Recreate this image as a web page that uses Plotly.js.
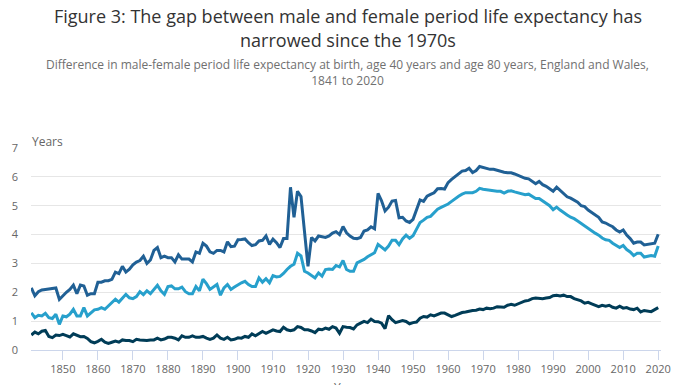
<!DOCTYPE html>
<html>
<head>
<meta charset="utf-8">
<script src="https://cdn.plot.ly/plotly-3.0.1.min.js"></script>
<style>
html,body{margin:0;padding:0;background:#fff;}
#chart{width:696px;height:385px;}
</style>
</head>
<body>
<div id="chart"></div>
<script>
// Years 1841 to 2020
const firstYear = 1841;
const lastYear = 2020;

// Difference in male-female period life expectancy at birth (years)
const atBirth = [
  2.15,1.88,2.02,2.08,2.1,2.12,2.12,2.15,1.75,1.88,
  2.0,2.1,2.25,1.95,2.25,2.22,1.9,1.95,1.95,2.35,
  2.35,2.4,2.4,2.45,2.7,2.65,2.9,2.7,2.8,2.95,
  3.05,3.1,3.25,3.0,3.12,3.45,3.55,3.2,3.25,3.2,
  3.2,3.05,3.3,3.15,3.15,3.15,3.05,3.4,3.35,3.7,
  3.6,3.4,3.35,3.45,3.45,3.4,3.75,3.58,3.6,3.82,
  3.83,3.85,3.72,3.62,3.65,3.78,3.8,3.95,3.66,3.84,
  3.72,3.55,3.86,3.86,5.64,4.6,5.5,5.32,4.1,2.9,
  3.9,3.78,3.95,3.92,3.9,3.95,4.05,4.1,4.0,4.28,
  4.06,3.95,3.87,3.86,3.9,4.12,4.16,4.27,4.2,5.43,
  5.17,4.82,4.95,5.16,5.18,4.58,4.6,4.47,4.42,4.53,
  4.9,5.2,5.15,5.33,5.39,5.45,5.59,5.6,5.58,5.8,
  5.91,6.0,6.12,6.2,6.22,6.3,6.15,6.22,6.36,6.33,
  6.3,6.26,6.26,6.22,6.19,6.16,6.14,6.14,6.1,6.05,
  5.99,5.95,5.93,5.84,5.76,5.84,5.73,5.67,5.58,5.5,
  5.64,5.52,5.41,5.31,5.26,5.2,5.12,5.0,4.97,4.85,
  4.77,4.69,4.6,4.44,4.4,4.33,4.27,4.16,4.09,4.16,
  3.98,3.86,3.7,3.74,3.74,3.64,3.66,3.69,3.7,4.01
];

// Difference at age 40 (years)
const age40 = [
  1.29,1.12,1.2,1.18,1.27,1.12,1.09,1.24,0.89,1.18,
  1.15,1.24,1.41,1.18,1.18,1.47,1.18,1.29,1.39,1.41,
  1.47,1.41,1.52,1.64,1.76,1.66,1.81,1.93,1.81,1.78,
  1.85,2.02,1.92,2.05,1.95,2.1,2.24,2.05,1.93,2.2,
  2.22,2.12,2.12,2.18,2.02,1.95,1.95,2.2,2.05,2.45,
  2.3,2.1,2.2,2.27,1.9,2.15,2.27,2.1,2.18,2.27,
  2.33,2.38,2.27,2.2,2.2,2.5,2.35,2.47,2.33,2.58,
  2.53,2.55,2.65,2.79,2.9,2.97,3.35,3.26,2.73,2.67,
  2.58,2.5,2.67,2.56,2.79,2.81,2.79,2.93,2.88,3.1,
  2.79,2.73,2.73,3.02,3.08,3.14,3.23,3.31,3.37,3.66,
  3.58,3.47,3.6,3.8,3.8,3.65,3.85,3.98,3.87,3.96,
  4.19,4.42,4.5,4.6,4.63,4.74,4.88,4.94,5.0,5.06,
  5.15,5.25,5.33,5.4,5.45,5.45,5.45,5.5,5.6,5.57,
  5.55,5.55,5.52,5.5,5.5,5.44,5.5,5.52,5.48,5.45,
  5.42,5.38,5.4,5.32,5.25,5.25,5.17,5.1,5.0,4.86,
  4.95,4.85,4.75,4.68,4.6,4.55,4.47,4.38,4.3,4.2,
  4.13,4.05,3.98,3.88,3.82,3.8,3.7,3.63,3.55,3.62,
  3.48,3.4,3.27,3.35,3.35,3.22,3.25,3.27,3.25,3.6
];

// Difference at age 80 (years)
const age80 = [
  0.52,0.62,0.56,0.65,0.68,0.47,0.43,0.52,0.5,0.54,
  0.5,0.45,0.56,0.52,0.46,0.47,0.4,0.29,0.25,0.3,
  0.37,0.27,0.23,0.27,0.31,0.27,0.35,0.33,0.33,0.29,
  0.37,0.35,0.33,0.33,0.35,0.35,0.41,0.35,0.38,0.44,
  0.44,0.41,0.35,0.49,0.44,0.44,0.49,0.44,0.44,0.47,
  0.41,0.37,0.41,0.52,0.41,0.37,0.44,0.35,0.37,0.42,
  0.41,0.47,0.44,0.56,0.49,0.56,0.64,0.58,0.64,0.7,
  0.66,0.64,0.79,0.7,0.67,0.7,0.81,0.78,0.7,0.7,
  0.66,0.6,0.72,0.7,0.76,0.72,0.81,0.76,0.58,0.81,
  0.79,0.78,0.73,0.87,0.93,0.99,0.95,1.07,0.99,0.98,
  0.93,0.74,1.19,1.05,0.95,0.98,1.02,0.99,0.91,0.95,
  0.97,1.1,1.16,1.14,1.22,1.18,1.24,1.28,1.28,1.22,
  1.16,1.2,1.25,1.3,1.32,1.35,1.37,1.38,1.42,1.4,
  1.45,1.43,1.45,1.5,1.5,1.48,1.55,1.58,1.55,1.6,
  1.65,1.7,1.72,1.78,1.8,1.78,1.78,1.8,1.82,1.88,
  1.9,1.87,1.9,1.85,1.85,1.78,1.75,1.7,1.62,1.65,
  1.6,1.55,1.5,1.55,1.52,1.55,1.48,1.45,1.52,1.45,
  1.47,1.42,1.4,1.45,1.32,1.37,1.35,1.33,1.4,1.47
];

const tickYears = [1850,1860,1870,1880,1890,1900,1910,1920,1930,1940,1950,1960,1970,1980,1990,2000,2010,2020];
const yTicks = [0,1,2,3,4,5,6,7];

const years = [];
for (let y = firstYear; y <= lastYear; y++) years.push(y);

const seriesNames = ['At birth','Age 40','Age 80'];
const seriesColors = ['#206095','#27a0cc','#003c57'];
const seriesData = [atBirth, age40, age80];

const traces = seriesData.map((vals, i) => ({
  type: 'scatter',
  mode: 'lines',
  name: seriesNames[i],
  x: years,
  y: vals,
  line: {color: seriesColors[i], width: 3},
  hoverinfo: 'x+y+name'
}));

const font = '"Open Sans", "Noto Sans", sans-serif';

const layout = {
  width: 696,
  height: 385,
  margin: {l: 31, r: 35, t: 148, b: 35},
  paper_bgcolor: '#ffffff',
  plot_bgcolor: '#ffffff',
  showlegend: false,
  font: {family: font, color: '#666666', size: 11},
  title: {
    text: 'Figure 3: The gap between male and female period life expectancy has<br>narrowed since the 1970s',
    font: {family: font, size: 18, color: '#333333'},
    xref: 'container', x: 0.5, xanchor: 'center',
    yref: 'container', y: 0.939, yanchor: 'top'
  },
  xaxis: {
    range: [1840.9, 2020.8],
    tickvals: tickYears,
    ticktext: tickYears.map(String),
    ticks: 'outside',
    ticklen: 9,
    tickcolor: '#ccd6eb',
    tickwidth: 1,
    showline: true,
    linecolor: '#ccd6eb',
    linewidth: 1,
    showgrid: false,
    zeroline: false,
    tickfont: {family: font, size: 11, color: '#666666'},
    fixedrange: true
  },
  yaxis: {
    range: [0, 7],
    tickvals: yTicks,
    ticktext: yTicks.map(String),
    showgrid: true,
    gridcolor: '#e6e6e6',
    gridwidth: 1,
    zeroline: false,
    showline: false,
    ticks: '',
    ticklabelstandoff: 12,
    tickfont: {family: font, size: 11, color: '#666666'},
    fixedrange: true
  },
  annotations: [
    {
      text: 'Difference in male-female period life expectancy at birth, age 40 years and age 80 years, England and Wales,<br>1841 to 2020',
      xref: 'paper', yref: 'paper',
      x: 0.503, y: 1.376, xanchor: 'center', yanchor: 'middle',
      showarrow: false,
      font: {family: font, size: 12, color: '#707070'}
    },
    {
      text: 'Years',
      xref: 'paper', yref: 'paper',
      x: -0.002, y: 1.03, xanchor: 'left', yanchor: 'middle',
      showarrow: false,
      font: {family: font, size: 12, color: '#666666'}
    },
    {
      text: 'Year',
      xref: 'paper', yref: 'paper',
      x: 0.5, y: -0.185, xanchor: 'center', yanchor: 'middle',
      showarrow: false,
      font: {family: font, size: 12, color: '#666666'}
    }
  ]
};

Plotly.newPlot('chart', traces, layout, {displayModeBar: false, staticPlot: true});
</script>
</body>
</html>
